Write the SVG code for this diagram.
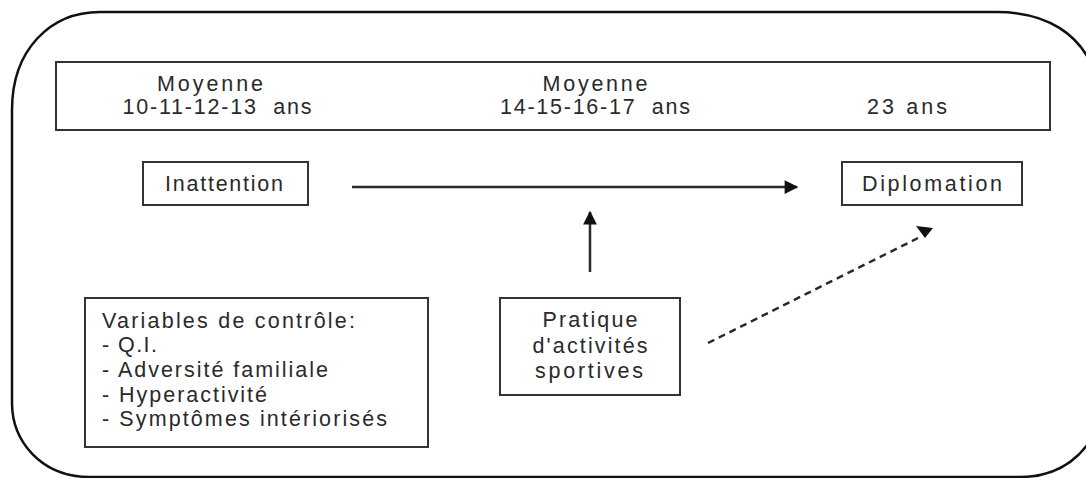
<svg xmlns="http://www.w3.org/2000/svg" width="1086" height="478" viewBox="0 0 1086 478">
<style>
.box{fill:#fff;stroke:#333;stroke-width:2}
.t{font-family:"Liberation Sans",Arial,sans-serif;font-size:21.5px;fill:#2a2a2a}
.c{text-anchor:middle}
.conn{stroke:#2a2a2a;stroke-width:2.5;fill:none}
</style>
<defs>
<marker id="ah" viewBox="0 0 10 10" refX="9" refY="5" markerWidth="6.5" markerHeight="5.5" markerUnits="strokeWidth" orient="auto">
<path d="M0,0 L10,5 L0,10 z" fill="#111"/>
</marker>
</defs>
<rect width="1086" height="478" fill="#fff"/>
<path id="frame" d="M 12 110 C 12 50 50 12 100 12 L 997 12 C 1048 12 1080 35 1094 70 L 1100 420 C 1088 455 1060 477 1020 477 L 90 477 C 40 477 12 440 12 403 Z" fill="none" stroke="#111" stroke-width="2.5"/>
<g id="timeline">
<rect class="box" x="56" y="62" width="994" height="68"/>
<text class="t c" x="210" y="91" textLength="106" lengthAdjust="spacing">Moyenne</text>
<text class="t c" x="217" y="114" textLength="189" lengthAdjust="spacing" xml:space="preserve">10-11-12-13  ans</text>
<text class="t c" x="595" y="91" textLength="105" lengthAdjust="spacing">Moyenne</text>
<text class="t c" x="595" y="114" textLength="190" lengthAdjust="spacing" xml:space="preserve">14-15-16-17  ans</text>
<text class="t c" x="907" y="114" textLength="80" lengthAdjust="spacing">23 ans</text>
</g>
<g id="inattention">
<rect class="box" x="143" y="162" width="165" height="43"/>
<text class="t c" x="224" y="191" textLength="118" lengthAdjust="spacing">Inattention</text>
</g>
<g id="diplomation">
<rect class="box" x="842" y="162" width="180" height="43"/>
<text class="t c" x="932" y="191" textLength="140" lengthAdjust="spacing">Diplomation</text>
</g>
<g id="controle">
<rect class="box" x="85" y="298" width="343" height="149"/>
<text class="t" x="102" y="328" textLength="253" lengthAdjust="spacing">Variables de contrôle:</text>
<text class="t" x="102" y="352" textLength="55" lengthAdjust="spacing">- Q.I.</text>
<text class="t" x="102" y="377" textLength="226" lengthAdjust="spacing">- Adversité familiale</text>
<text class="t" x="102" y="402" textLength="165" lengthAdjust="spacing">- Hyperactivité</text>
<text class="t" x="102" y="426" textLength="285" lengthAdjust="spacing">- Symptômes intériorisés</text>
</g>
<g id="pratique">
<rect class="box" x="500" y="298" width="180" height="97"/>
<text class="t c" x="590" y="327" textLength="95" lengthAdjust="spacing">Pratique</text>
<text class="t c" x="590" y="353" textLength="115" lengthAdjust="spacing">d'activités</text>
<text class="t c" x="589" y="378" textLength="108" lengthAdjust="spacing">sportives</text>
</g>
<g id="connectors">
<line class="conn" x1="352" y1="187" x2="797" y2="187" marker-end="url(#ah)"/>
<line class="conn" x1="590" y1="272" x2="590" y2="212" marker-end="url(#ah)"/>
<line class="conn" x1="708" y1="343" x2="918" y2="238" stroke="#444" stroke-dasharray="7,5"/>
<polygon points="916,226 933,228 925,238" fill="#111"/>
</g>
</svg>
